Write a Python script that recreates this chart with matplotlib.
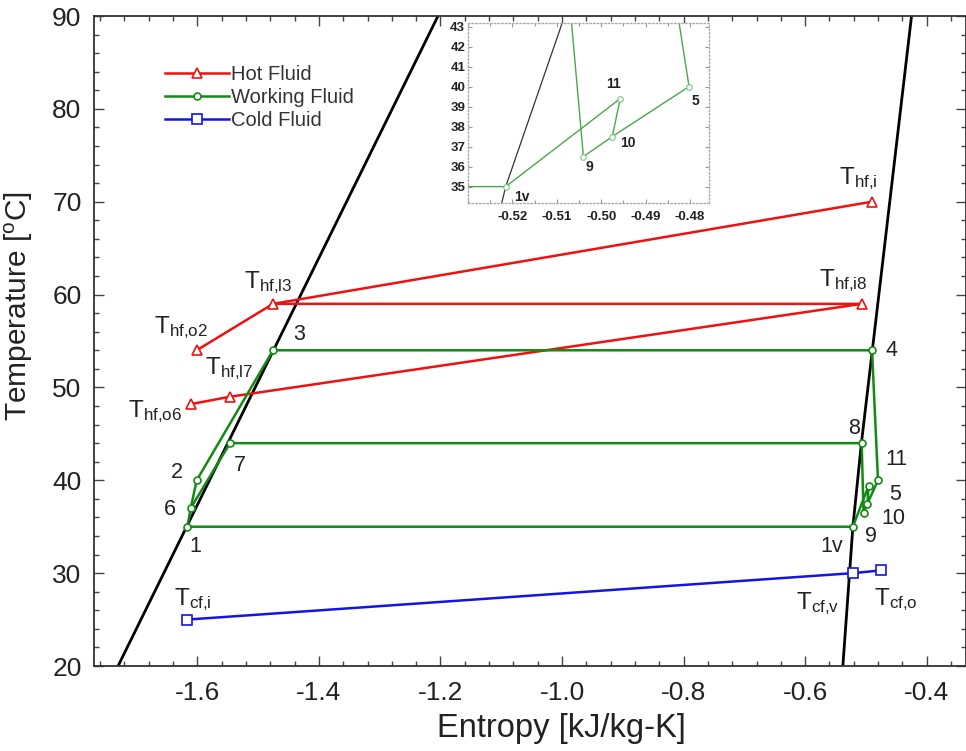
import numpy as np
import matplotlib.pyplot as plt
from matplotlib.ticker import MultipleLocator, FixedLocator, FormatStrFormatter

plt.rcParams['font.family'] = ['Liberation Sans', 'DejaVu Sans']
plt.rcParams['mathtext.fontset'] = 'custom'
plt.rcParams['mathtext.rm'] = 'Liberation Sans'
plt.rcParams['mathtext.it'] = 'Liberation Sans:italic'
plt.rcParams['mathtext.bf'] = 'Liberation Sans:bold'
plt.rcParams['axes.unicode_minus'] = False

# saturation lines
sat_liq_T = [20, 90]
sat_liq_s = [-1.7304, -1.2041]
sat_vap_T = [20, 35, 44, 54, 90]
sat_vap_s = [-0.538, -0.5215, -0.5075, -0.4895, -0.425]

# working fluid state points
wf_names = ['1', '6', '2', '3', '4', '5', '10', '11', '1v', '9', '8', '7']
wf_s = [-1.6164, -1.6109, -1.601, -1.4755, -0.490, -0.4802, -0.4975, -0.4957, -0.5215, -0.504, -0.507, -1.5462]
wf_T = [35, 37, 40, 54, 54, 40, 37.5, 39.4, 35, 36.5, 44, 44]
wf_paths = [['1', '6', '2', '3', '4', '5', '10', '11', '1v', '1'],
            ['6', '7', '8', '9', '10']]

# hot fluid
hf_names = ['hf,i', 'hf,l3', 'hf,o2', 'hf,i8', 'hf,l7', 'hf,o6']
hf_s = [-0.490, -1.4755, -1.601, -0.507, -1.5462, -1.6109]
hf_T = [70, 59, 54, 59, 49, 48.2]
hf_paths = [['hf,o2', 'hf,l3', 'hf,i'],
            ['hf,l3', 'hf,i8', 'hf,l7', 'hf,o6']]

# cold fluid
cf_names = ['cf,i', 'cf,v', 'cf,o']
cf_s = [-1.6164, -0.5215, -0.4748]
cf_T = [25, 30, 30.3]

# label offsets in pixels (dx, dy)
wf_off = {'1': (8, -20), '6': (-21, -1), '2': (-20, 8), '7': (10, -22), '3': (26, 16),
          '4': (19, 0), '8': (-8, 15), '11': (28, 26), '5': (17, -14), '10': (26, -15),
          '9': (7, -24), '1v': (-21, -20)}
hf_off = {'hf,i': (-14, 23), 'hf,i8': (-18, 23), 'hf,l3': (-5, 21), 'hf,o2': (-16, 23),
          'hf,l7': (-1, 28), 'hf,o6': (-36, -7)}
cf_off = {'cf,i': (5, 20), 'cf,v': (-35, -30), 'cf,o': (15, -29)}
inset_names = ['11', '5', '10', '9', '1v']
inset_off = {'11': (-7, 15), '5': (6, -14), '10': (16, -6), '9': (6, -10), '1v': (16, -10)}

RED = '#f01010'
GREEN = '#138a13'
BLUE = '#1414e6'
TXT = '#222222'

wf = dict(zip(wf_names, zip(wf_s, wf_T)))
hf = dict(zip(hf_names, zip(hf_s, hf_T)))
cf = dict(zip(cf_names, zip(cf_s, cf_T)))


def sub(name):
    return r'T$_{\mathrm{%s}}$' % name.replace(',', '{,}')


fig = plt.figure(figsize=(9.66, 7.51), dpi=100)
ax = fig.add_axes([94 / 966, 85 / 751, 872 / 966, 650 / 751])

ax.plot(sat_liq_s, sat_liq_T, color='black', lw=2.0, zorder=2)
ax.plot(sat_vap_s, sat_vap_T, color='black', lw=2.0, zorder=2)

for p in hf_paths:
    ax.plot([hf[k][0] for k in p], [hf[k][1] for k in p], color=RED, lw=1.8, zorder=3)
ax.plot(hf_s, hf_T, ls='none', marker='^', ms=7, mfc='white', mec=RED, mew=1.2, zorder=5)

for p in wf_paths:
    ax.plot([wf[k][0] for k in p], [wf[k][1] for k in p], color=GREEN, lw=1.8, zorder=3)
ax.plot(wf_s, wf_T, ls='none', marker='o', ms=5, mfc='white', mec=GREEN, mew=1.2, zorder=5)

ax.plot(cf_s, cf_T, color=BLUE, lw=1.8, marker='s', ms=7, mfc='white', mec=BLUE, mew=1.2, zorder=4)

# legend proxies
h1, = ax.plot([], [], color=RED, lw=1.8, marker='^', ms=7, mfc='white', mec=RED, mew=1.2)
h2, = ax.plot([], [], color=GREEN, lw=1.8, marker='o', ms=5, mfc='white', mec=GREEN, mew=1.2)
h3, = ax.plot([], [], color=BLUE, lw=1.8, marker='s', ms=7, mfc='white', mec=BLUE, mew=1.2)
leg = fig.legend([h1, h2, h3], ['Hot Fluid', 'Working Fluid', 'Cold Fluid'],
                 loc='upper left', bbox_to_anchor=(165 / 966, 1 - 65 / 751), frameon=False,
                 fontsize=14.5, handlelength=3.2, handletextpad=0.1, labelspacing=0.2,
                 borderpad=0, borderaxespad=0, numpoints=1)
for t in leg.get_texts():
    t.set_color('#333333')

for k in wf_names:
    ax.annotate(k, wf[k], xytext=wf_off[k], textcoords='offset pixels',
                ha='center', va='center', fontsize=15.5, color=TXT, zorder=6)
for k in hf_names:
    ax.annotate(sub(k), hf[k], xytext=hf_off[k], textcoords='offset pixels',
                ha='center', va='center', fontsize=17.5, color=TXT, zorder=6)
for k in cf_names:
    ax.annotate(sub(k), cf[k], xytext=cf_off[k], textcoords='offset pixels',
                ha='center', va='center', fontsize=17.5, color=TXT, zorder=6)

ax.set_xlim(-1.770, -0.3354)
ax.set_ylim(20, 90)
ax.xaxis.set_major_locator(MultipleLocator(0.2))
ax.xaxis.set_minor_locator(MultipleLocator(0.04))
ax.xaxis.set_major_formatter(FormatStrFormatter('%.1f'))
ax.yaxis.set_major_locator(MultipleLocator(10))
ax.yaxis.set_minor_locator(MultipleLocator(2))
ax.tick_params(which='both', direction='in', top=True, right=True, color='#444444',
               labelcolor=TXT, labelsize=19, width=1)
ax.tick_params(which='major', length=7)
ax.tick_params(which='minor', length=3.5)
ax.tick_params(axis='x', pad=11)
ax.tick_params(axis='y', pad=9)
for sp in ax.spines.values():
    sp.set_color('#333333')
    sp.set_linewidth(1.3)
ax.set_xlabel('Entropy [kJ/kg-K]', fontsize=23.5, color=TXT)
ax.set_ylabel(r'Temperature [$^{\mathrm{o}}$C]', fontsize=21.5, color=TXT)
ax.xaxis.set_label_coords(0.5356, -0.072)
ax.yaxis.set_label_coords(-0.068, 0.554)

# inset zoom of the low-pressure side
axin = fig.add_axes([468 / 966, 1 - 203 / 751, 241 / 966, 180 / 751])
axin.plot(sat_vap_s, sat_vap_T, color='#333333', lw=0.9)
for p in wf_paths:
    axin.plot([wf[k][0] for k in p], [wf[k][1] for k in p], color='#4aa64a', lw=1.0)
axin.plot(wf_s, wf_T, ls='none', marker='o', ms=4, mfc='white', mec='#7cc47c', mew=0.8)
for k in inset_names:
    axin.annotate(k, wf[k], xytext=inset_off[k], textcoords='offset pixels',
                  ha='center', va='center', fontsize=10, fontweight='bold', color=TXT)
axin.set_xlim(-0.530, -0.4757)
axin.set_ylim(34.18, 43.18)
axin.xaxis.set_major_locator(FixedLocator([-0.52, -0.51, -0.50, -0.49, -0.48]))
axin.xaxis.set_minor_locator(MultipleLocator(0.005))
axin.xaxis.set_major_formatter(FormatStrFormatter('%.2f'))
axin.yaxis.set_major_locator(MultipleLocator(1))
axin.tick_params(which='both', direction='in', top=True, right=True, color='#999999',
                 labelcolor=TXT, labelsize=9.5, width=0.8, length=3)
axin.tick_params(which='minor', length=2)
axin.tick_params(axis='x', pad=6)
axin.tick_params(axis='y', pad=2)
for lab in axin.get_xticklabels() + axin.get_yticklabels():
    lab.set_fontweight('bold')
for sp in axin.spines.values():
    sp.set_color('#aaaaaa')
    sp.set_linestyle(':')
    sp.set_linewidth(1.0)

fig.savefig('out.png', dpi=100)
